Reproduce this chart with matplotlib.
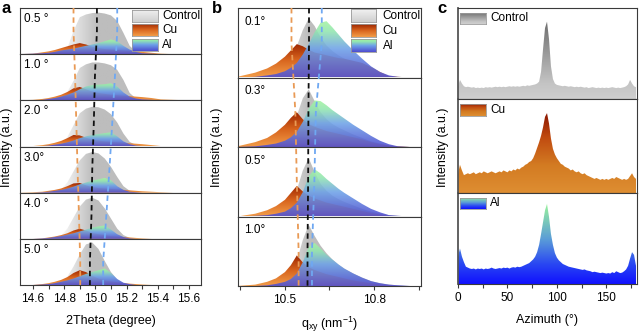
import numpy as np
import matplotlib
matplotlib.use('Agg')
import matplotlib.pyplot as plt
from matplotlib.colors import LinearSegmentedColormap
from matplotlib.patches import Polygon

plt.rcParams['font.family'] = ['Liberation Sans', 'DejaVu Sans']
plt.rcParams['mathtext.default'] = 'regular'

# ---------------- (a) out-of-plane 2Theta profiles at each incidence angle ----------------
two_theta = [14.50, 14.60, 14.66, 14.70, 14.74, 14.78, 14.82, 14.86, 14.90, 14.94, 14.98, 15.02,
             15.06, 15.10, 15.14, 15.18, 15.22, 15.26, 15.30, 15.36, 15.42, 15.50, 15.60, 15.70]
a_labels = ['0.5 °', '1.0 °', '2.0 °', '3.0°', '4.0 °', '5.0 °']

a_ctrl_05 = [0, 0, 0, 0.01, 0.03, 0.06, 0.13, 0.50, 0.80, 0.86, 0.89, 0.90, 0.88, 0.84, 0.72, 0.46, 0.18, 0.05, 0.01, 0, 0, 0, 0, 0]
a_cu_05 = [0, 0.01, 0.04, 0.06, 0.09, 0.13, 0.17, 0.21, 0.24, 0.21, 0.16, 0.13, 0.11, 0.10, 0.09, 0.08, 0.07, 0.06, 0.05, 0.03, 0.01, 0, 0, 0]
a_al_05 = [0, 0.01, 0.02, 0.03, 0.05, 0.08, 0.10, 0.12, 0.15, 0.18, 0.21, 0.24, 0.28, 0.32, 0.28, 0.18, 0.10, 0.05, 0.02, 0.01, 0, 0, 0, 0]

a_ctrl_10 = [0, 0, 0, 0.01, 0.02, 0.06, 0.18, 0.42, 0.70, 0.78, 0.82, 0.82, 0.80, 0.76, 0.66, 0.44, 0.16, 0.04, 0.01, 0, 0, 0, 0, 0]
a_cu_10 = [0, 0.01, 0.03, 0.05, 0.08, 0.12, 0.18, 0.26, 0.29, 0.24, 0.19, 0.16, 0.14, 0.12, 0.11, 0.10, 0.09, 0.08, 0.07, 0.05, 0.02, 0.01, 0, 0]
a_al_10 = [0, 0, 0.01, 0.03, 0.05, 0.08, 0.12, 0.17, 0.24, 0.30, 0.33, 0.34, 0.35, 0.37, 0.30, 0.17, 0.08, 0.04, 0.02, 0.01, 0, 0, 0, 0]

a_ctrl_20 = [0, 0, 0, 0.01, 0.02, 0.06, 0.20, 0.46, 0.72, 0.82, 0.86, 0.85, 0.80, 0.70, 0.52, 0.28, 0.10, 0.03, 0.01, 0, 0, 0, 0, 0]
a_cu_20 = [0, 0.01, 0.03, 0.05, 0.08, 0.12, 0.18, 0.25, 0.24, 0.19, 0.15, 0.13, 0.11, 0.10, 0.09, 0.08, 0.07, 0.06, 0.05, 0.03, 0.01, 0, 0, 0]
a_al_20 = [0, 0, 0.01, 0.02, 0.04, 0.06, 0.09, 0.13, 0.18, 0.22, 0.25, 0.27, 0.29, 0.31, 0.22, 0.11, 0.05, 0.02, 0.01, 0, 0, 0, 0, 0]

a_ctrl_30 = [0, 0, 0, 0.01, 0.02, 0.07, 0.22, 0.46, 0.70, 0.84, 0.88, 0.85, 0.74, 0.56, 0.34, 0.14, 0.04, 0.01, 0, 0, 0, 0, 0, 0]
a_cu_30 = [0, 0.01, 0.02, 0.04, 0.06, 0.09, 0.14, 0.20, 0.21, 0.16, 0.12, 0.10, 0.09, 0.08, 0.07, 0.06, 0.05, 0.04, 0.03, 0.02, 0.01, 0, 0, 0]
a_al_30 = [0, 0, 0.01, 0.02, 0.04, 0.06, 0.09, 0.13, 0.18, 0.22, 0.26, 0.29, 0.32, 0.27, 0.14, 0.06, 0.02, 0.01, 0, 0, 0, 0, 0, 0]

a_ctrl_40 = [0, 0, 0, 0.01, 0.02, 0.07, 0.22, 0.46, 0.70, 0.85, 0.89, 0.83, 0.66, 0.44, 0.22, 0.08, 0.02, 0, 0, 0, 0, 0, 0, 0]
a_cu_40 = [0, 0, 0.01, 0.03, 0.05, 0.08, 0.12, 0.18, 0.22, 0.18, 0.13, 0.10, 0.08, 0.06, 0.05, 0.04, 0.03, 0.02, 0.01, 0, 0, 0, 0, 0]
a_al_40 = [0, 0, 0.01, 0.02, 0.04, 0.06, 0.09, 0.12, 0.16, 0.20, 0.24, 0.27, 0.29, 0.20, 0.10, 0.04, 0.01, 0, 0, 0, 0, 0, 0, 0]

a_ctrl_50 = [0, 0, 0, 0.01, 0.02, 0.06, 0.18, 0.40, 0.66, 0.88, 0.92, 0.78, 0.52, 0.28, 0.12, 0.04, 0.01, 0, 0, 0, 0, 0, 0, 0]
a_cu_50 = [0, 0, 0.02, 0.04, 0.07, 0.11, 0.17, 0.26, 0.32, 0.28, 0.20, 0.14, 0.10, 0.08, 0.06, 0.04, 0.03, 0.02, 0.01, 0, 0, 0, 0, 0]
a_al_50 = [0, 0, 0.01, 0.02, 0.04, 0.07, 0.10, 0.14, 0.19, 0.24, 0.28, 0.32, 0.36, 0.26, 0.13, 0.05, 0.02, 0, 0, 0, 0, 0, 0, 0]

# peak positions marked by the dashed guides, one value per row
a_peak_ctrl = [15.010, 14.997, 14.990, 14.980, 14.975, 14.965]
a_peak_cu = [14.860, 14.870, 14.878, 14.886, 14.895, 14.903]
a_peak_al = [15.140, 15.125, 15.108, 15.090, 15.070, 15.050]

# ---------------- (b) in-plane q_xy profiles ----------------
q_xy = [10.34, 10.40, 10.44, 10.47, 10.50, 10.52, 10.54, 10.56, 10.58, 10.60, 10.62, 10.64,
        10.66, 10.68, 10.70, 10.73, 10.76, 10.79, 10.82, 10.85, 10.88, 10.92, 10.96]
b_labels = ['0.1°', '0.3°', '0.5°', '1.0°']

b_ctrl_01 = [0, 0.03, 0.06, 0.10, 0.17, 0.28, 0.45, 0.68, 0.85, 0.74, 0.58, 0.46, 0.38, 0.32, 0.27, 0.20, 0.14, 0.09, 0.05, 0.02, 0.01, 0, 0]
b_cu_01 = [0.01, 0.07, 0.13, 0.20, 0.30, 0.39, 0.48, 0.45, 0.40, 0.36, 0.34, 0.32, 0.30, 0.28, 0.27, 0.24, 0.21, 0.15, 0.08, 0.02, 0.01, 0, 0]
b_al_01 = [0, 0.01, 0.03, 0.05, 0.09, 0.14, 0.21, 0.33, 0.48, 0.65, 0.79, 0.81, 0.72, 0.62, 0.52, 0.39, 0.27, 0.16, 0.08, 0.03, 0.01, 0, 0]

b_ctrl_03 = [0, 0.02, 0.05, 0.09, 0.16, 0.27, 0.45, 0.70, 0.83, 0.66, 0.50, 0.40, 0.33, 0.28, 0.24, 0.18, 0.13, 0.08, 0.05, 0.02, 0.01, 0, 0]
b_cu_03 = [0.01, 0.07, 0.13, 0.21, 0.32, 0.42, 0.50, 0.40, 0.33, 0.29, 0.26, 0.23, 0.21, 0.19, 0.17, 0.14, 0.11, 0.07, 0.04, 0.02, 0.01, 0, 0]
b_al_03 = [0, 0.01, 0.03, 0.05, 0.09, 0.14, 0.22, 0.36, 0.55, 0.67, 0.66, 0.60, 0.53, 0.47, 0.41, 0.32, 0.24, 0.16, 0.09, 0.04, 0.01, 0, 0]

b_ctrl_05 = [0, 0.02, 0.04, 0.07, 0.13, 0.22, 0.38, 0.66, 0.84, 0.64, 0.47, 0.37, 0.30, 0.25, 0.21, 0.16, 0.11, 0.07, 0.04, 0.02, 0.01, 0, 0]
b_cu_05 = [0, 0.04, 0.09, 0.15, 0.24, 0.34, 0.44, 0.36, 0.30, 0.26, 0.23, 0.20, 0.18, 0.16, 0.14, 0.11, 0.08, 0.05, 0.03, 0.01, 0, 0, 0]
b_al_05 = [0, 0.01, 0.02, 0.04, 0.07, 0.12, 0.20, 0.35, 0.58, 0.68, 0.62, 0.54, 0.47, 0.40, 0.34, 0.26, 0.18, 0.11, 0.06, 0.02, 0.01, 0, 0]

b_ctrl_10 = [0, 0.01, 0.03, 0.06, 0.11, 0.20, 0.36, 0.66, 0.88, 0.72, 0.58, 0.47, 0.38, 0.31, 0.25, 0.18, 0.12, 0.07, 0.04, 0.02, 0.01, 0, 0]
b_cu_10 = [0, 0.02, 0.06, 0.11, 0.20, 0.30, 0.44, 0.34, 0.27, 0.23, 0.20, 0.17, 0.15, 0.13, 0.11, 0.08, 0.06, 0.04, 0.02, 0.01, 0, 0, 0]
b_al_10 = [0, 0, 0.01, 0.03, 0.06, 0.10, 0.18, 0.34, 0.56, 0.62, 0.54, 0.45, 0.38, 0.31, 0.25, 0.18, 0.12, 0.07, 0.04, 0.02, 0.01, 0, 0]

b_peak_ctrl = [10.581, 10.579, 10.578, 10.576]
b_peak_cu = [10.522, 10.535, 10.540, 10.546]
b_peak_al = [10.624, 10.604, 10.599, 10.591]

# ---------------- (c) azimuthal profiles, 0-180 deg in 2 deg steps ----------------
azimuth = np.arange(0, 181, 2)
c_ctrl = [0.14, 0.21, 0.17, 0.14, 0.13, 0.135, 0.13, 0.125, 0.13, 0.12,
          0.125, 0.12, 0.125, 0.12, 0.13, 0.125, 0.13, 0.125, 0.13, 0.135,
          0.13, 0.135, 0.13, 0.135, 0.13, 0.135, 0.14, 0.135, 0.14, 0.135,
          0.14, 0.135, 0.14, 0.145, 0.14, 0.15, 0.145, 0.15, 0.155, 0.16,
          0.17, 0.19, 0.30, 0.55, 0.78, 0.85, 0.66, 0.36, 0.22, 0.17,
          0.155, 0.15, 0.145, 0.14, 0.145, 0.14, 0.135, 0.14, 0.135, 0.13,
          0.135, 0.13, 0.135, 0.13, 0.125, 0.13, 0.12, 0.125, 0.13, 0.125,
          0.12, 0.125, 0.12, 0.125, 0.12, 0.125, 0.12, 0.125, 0.13, 0.125,
          0.12, 0.125, 0.12, 0.125, 0.13, 0.14, 0.16, 0.21, 0.17, 0.14,
          0.13]
c_cu = [0.20, 0.30, 0.24, 0.19, 0.20, 0.21, 0.20, 0.21, 0.22, 0.20,
        0.21, 0.22, 0.21, 0.23, 0.22, 0.21, 0.22, 0.23, 0.22, 0.21,
        0.22, 0.23, 0.22, 0.24, 0.23, 0.22, 0.24, 0.23, 0.25, 0.24,
        0.26, 0.25, 0.27, 0.28, 0.30, 0.31, 0.33, 0.34, 0.37, 0.42,
        0.48, 0.54, 0.61, 0.70, 0.81, 0.85, 0.74, 0.58, 0.47, 0.41,
        0.37, 0.34, 0.31, 0.30, 0.28, 0.27, 0.26, 0.24, 0.25, 0.23,
        0.22, 0.23, 0.21, 0.20, 0.21, 0.19, 0.18, 0.17, 0.16, 0.15,
        0.16, 0.15, 0.14, 0.15, 0.14, 0.15, 0.14, 0.15, 0.16, 0.15,
        0.17, 0.16, 0.15, 0.14, 0.15, 0.14, 0.15, 0.18, 0.21, 0.17,
        0.15]
c_al = [0.30, 0.39, 0.30, 0.24, 0.19, 0.18, 0.17, 0.165, 0.17, 0.16,
        0.17, 0.165, 0.17, 0.16, 0.17, 0.165, 0.17, 0.18, 0.17, 0.165,
        0.17, 0.175, 0.17, 0.18, 0.175, 0.18, 0.17, 0.18, 0.185, 0.18,
        0.19, 0.185, 0.19, 0.20, 0.21, 0.22, 0.23, 0.25, 0.27, 0.30,
        0.35, 0.43, 0.55, 0.68, 0.81, 0.88, 0.74, 0.55, 0.43, 0.34,
        0.29, 0.26, 0.24, 0.22, 0.21, 0.20, 0.19, 0.185, 0.18, 0.175,
        0.17, 0.165, 0.16, 0.155, 0.16, 0.15, 0.145, 0.14, 0.13, 0.135,
        0.13, 0.125, 0.12, 0.125, 0.12, 0.115, 0.12, 0.115, 0.13, 0.12,
        0.14, 0.13, 0.12, 0.125, 0.14, 0.16, 0.20, 0.28, 0.35, 0.32,
        0.20]

# ---------------- colour ramps (bottom -> top) ----------------
ctrl_ramp = LinearSegmentedColormap.from_list('ctrl', ['#fbfbfb', '#bdbdbd'])
cu_ramp = LinearSegmentedColormap.from_list('cu', ['#f29c48', '#d8651e', '#9c2400'])
al_ramp = LinearSegmentedColormap.from_list('al', [(0, '#4e4cd0'), (0.5, '#6ea2e8'), (0.8, '#92e6b0'), (1, '#a6f5a0')])
ctrl_key = LinearSegmentedColormap.from_list('ctrl_key', ['#cfcfcf', '#f2f2f2'])

c_ctrl_ramp = LinearSegmentedColormap.from_list('c_ctrl', [(0, '#cfcfcf'), (0.2, '#c4c4c4'), (1, '#6e6e6e')])
c_cu_ramp = LinearSegmentedColormap.from_list('c_cu', [(0, '#de8e32'), (0.35, '#d37b22'), (0.7, '#c04a10'), (1, '#8a1500')])
c_al_ramp = LinearSegmentedColormap.from_list('c_al', [(0, '#1010ff'), (0.25, '#2a48f2'), (0.55, '#5a9cd8'), (1, '#9af59a')])

W, H = 639, 335
fig = plt.figure(figsize=(W / 100, H / 100), dpi=100)
EDGE = '#3a3a3a'
TICK_FS = 8.5
LABEL_FS = 9


def px_axes(x0, y0, x1, y1):
    return fig.add_axes([x0 / W, 1 - y1 / H, (x1 - x0) / W, (y1 - y0) / H])


def clip_to_curve(ax, im, x, y):
    verts = np.vstack([[x[0], 0], np.column_stack([x, y]), [x[-1], 0]])
    poly = Polygon(verts, closed=True, facecolor='none', edgecolor='none')
    ax.add_patch(poly)
    im.set_clip_path(poly)


def fill_vertical(ax, x, y, cmap, alpha=1.0, z=1):
    x = np.asarray(x, float)
    y = np.asarray(y, float)
    ramp = np.linspace(0, 1, 256).reshape(-1, 1)
    im = ax.imshow(ramp, cmap=cmap, origin='lower', aspect='auto', alpha=alpha, zorder=z,
                   extent=[x[0], x[-1], 0, y.max()], interpolation='bilinear')
    clip_to_curve(ax, im, x, y)


def fill_across(ax, x, y, cmap, z=1):
    # light on the rising flank, full grey from the maximum onwards
    x = np.asarray(x, float)
    y = np.asarray(y, float)
    x0 = x[y > 0.03][0]
    x1 = x[np.argmax(y)]
    xs = np.linspace(x[0], x[-1], 400)
    ramp = np.clip((xs - x0) / (x1 - x0), 0, 1).reshape(1, -1)
    im = ax.imshow(ramp, cmap=cmap, vmin=0, vmax=1, origin='lower', aspect='auto', zorder=z,
                   extent=[x[0], x[-1], 0, y.max()], interpolation='bilinear')
    clip_to_curve(ax, im, x, y)


def key_patch(ax, rect, cmap, text, text_x):
    box = ax.inset_axes(rect)
    box.imshow(np.linspace(0, 1, 64).reshape(-1, 1), cmap=cmap, origin='lower', aspect='auto')
    box.set_xticks([])
    box.set_yticks([])
    for s in box.spines.values():
        s.set_color('#9a9a9a')
        s.set_linewidth(0.6)
    ax.text(text_x, rect[1] + rect[3] / 2, text, transform=ax.transAxes, va='center', ha='left',
            fontsize=TICK_FS)


def frame(ax, xlim):
    ax.set_xlim(*xlim)
    ax.set_ylim(0, 1)
    ax.set_yticks([])
    for s in ax.spines.values():
        s.set_color(EDGE)
        s.set_linewidth(0.8)


def bottom_ticks(ax, major, minor, labels):
    ax.set_xticks(major)
    ax.set_xticklabels(labels)
    ax.set_xticks(minor, minor=True)
    ax.tick_params(which='both', direction='out', length=3, width=0.8, color=EDGE,
                   labelsize=TICK_FS, pad=3)


def guides(x0, y0, x1, y1, xlim, nrows, peak_sets):
    ov = px_axes(x0, y0, x1, y1)
    ov.set_xlim(*xlim)
    ov.set_ylim(nrows, 0)
    ov.axis('off')
    ys = [0] + [i + 0.5 for i in range(nrows)] + [nrows]
    for peaks, color in peak_sets:
        xs = [peaks[0]] + list(peaks) + [peaks[-1]]
        ov.plot(xs, ys, color=color, lw=1.3, ls=(0, (3, 2.2)))


# ---------------- panel a ----------------
a_rows = [(a_ctrl_05, a_cu_05, a_al_05), (a_ctrl_10, a_cu_10, a_al_10), (a_ctrl_20, a_cu_20, a_al_20),
          (a_ctrl_30, a_cu_30, a_al_30), (a_ctrl_40, a_cu_40, a_al_40), (a_ctrl_50, a_cu_50, a_al_50)]
a_x0, a_x1, a_top, a_bot = 20, 201, 8, 285
a_xlim = (14.517, 15.677)
row_h = (a_bot - a_top) / len(a_rows)
for i, (ctrl, cu, al) in enumerate(a_rows):
    ax = px_axes(a_x0, a_top + i * row_h, a_x1, a_top + (i + 1) * row_h)
    fill_across(ax, two_theta, ctrl, ctrl_ramp, z=1)
    fill_vertical(ax, two_theta, cu, cu_ramp, z=2)
    fill_vertical(ax, two_theta, al, al_ramp, alpha=0.9, z=3)
    frame(ax, a_xlim)
    ax.text(0.022, 0.76, a_labels[i], transform=ax.transAxes, va='center', fontsize=TICK_FS)
    if i == 0:
        key_patch(ax, [0.62, 0.70, 0.14, 0.26], ctrl_key, 'Control', 0.785)
        key_patch(ax, [0.62, 0.40, 0.14, 0.26], cu_ramp, 'Cu', 0.785)
        key_patch(ax, [0.62, 0.07, 0.14, 0.26], al_ramp, 'Al', 0.785)
    if i == len(a_rows) - 1:
        bottom_ticks(ax, [14.6, 14.8, 15.0, 15.2, 15.4, 15.6], [14.7, 14.9, 15.1, 15.3, 15.5],
                     ['14.6', '14.8', '15.0', '15.2', '15.4', '15.6'])
        ax.set_xlabel('2Theta (degree)', fontsize=LABEL_FS, labelpad=7)
    else:
        ax.set_xticks([])
guides(a_x0, a_top, a_x1, a_bot, a_xlim, len(a_rows),
       [(a_peak_cu, '#e99a55'), (a_peak_ctrl, '#111111'), (a_peak_al, '#6fa8f2')])

# ---------------- panel b ----------------
b_rows = [(b_ctrl_01, b_cu_01, b_al_01), (b_ctrl_03, b_cu_03, b_al_03),
          (b_ctrl_05, b_cu_05, b_al_05), (b_ctrl_10, b_cu_10, b_al_10)]
b_x0, b_x1, b_top, b_bot = 238, 421, 8, 286
b_xlim = (10.342, 10.958)
row_h = (b_bot - b_top) / len(b_rows)
for i, (ctrl, cu, al) in enumerate(b_rows):
    ax = px_axes(b_x0, b_top + i * row_h, b_x1, b_top + (i + 1) * row_h)
    fill_across(ax, q_xy, ctrl, ctrl_ramp, z=1)
    fill_vertical(ax, q_xy, cu, cu_ramp, z=2)
    fill_vertical(ax, q_xy, al, al_ramp, alpha=0.88, z=3)
    frame(ax, b_xlim)
    ax.text(0.033, 0.80, b_labels[i], transform=ax.transAxes, va='center', fontsize=TICK_FS)
    if i == 0:
        key_patch(ax, [0.617, 0.80, 0.137, 0.18], ctrl_key, 'Control', 0.79)
        key_patch(ax, [0.617, 0.585, 0.137, 0.18], cu_ramp, 'Cu', 0.79)
        key_patch(ax, [0.617, 0.37, 0.137, 0.18], al_ramp, 'Al', 0.79)
    if i == len(b_rows) - 1:
        bottom_ticks(ax, [10.5, 10.8], [10.35, 10.65, 10.95], ['10.5', '10.8'])
        ax.set_xlabel('q$_{xy}$ (nm$^{-1}$)', fontsize=LABEL_FS, labelpad=6)
    else:
        ax.set_xticks([])
guides(b_x0, b_top, b_x1, b_bot, b_xlim, len(b_rows),
       [(b_peak_cu, '#e99a55'), (b_peak_ctrl, '#111111'), (b_peak_al, '#6fa8f2')])

# ---------------- panel c ----------------
c_rows = [(c_ctrl, c_ctrl_ramp, 'Control', (8, 99)),
          (c_cu, c_cu_ramp, 'Cu', (99, 193)),
          (c_al, c_al_ramp, 'Al', (193, 284))]
for i, (vals, ramp, name, (y0, y1)) in enumerate(c_rows):
    ax = px_axes(458, y0, 637, y1)
    fill_vertical(ax, azimuth, vals, ramp, z=1)
    frame(ax, (0, 181))
    ax.spines['left'].set_linewidth(1.3)
    ax.spines['left'].set_color('#555555')
    key_patch(ax, [0.012, 0.82, 0.145, 0.13], ramp, name, 0.18)
    if i == len(c_rows) - 1:
        bottom_ticks(ax, [0, 50, 100, 150], [25, 75, 125, 175], ['0', '50', '100', '150'])
        ax.set_xlabel('Azimuth (°)', fontsize=LABEL_FS, labelpad=7)
    else:
        ax.set_xticks([])

# ---------------- shared labels ----------------
for xp, letter in [(2, 'a'), (212, 'b'), (437, 'c')]:
    fig.text(xp / W, 1 - 1 / H, letter, fontsize=12, fontweight='bold', va='top', ha='left')
for xp in (7, 217, 443):
    fig.text(xp / W, 1 - 147 / H, 'Intensity (a.u.)', rotation=90, fontsize=LABEL_FS,
             va='center', ha='center')

fig.savefig('out.png', dpi=100)
